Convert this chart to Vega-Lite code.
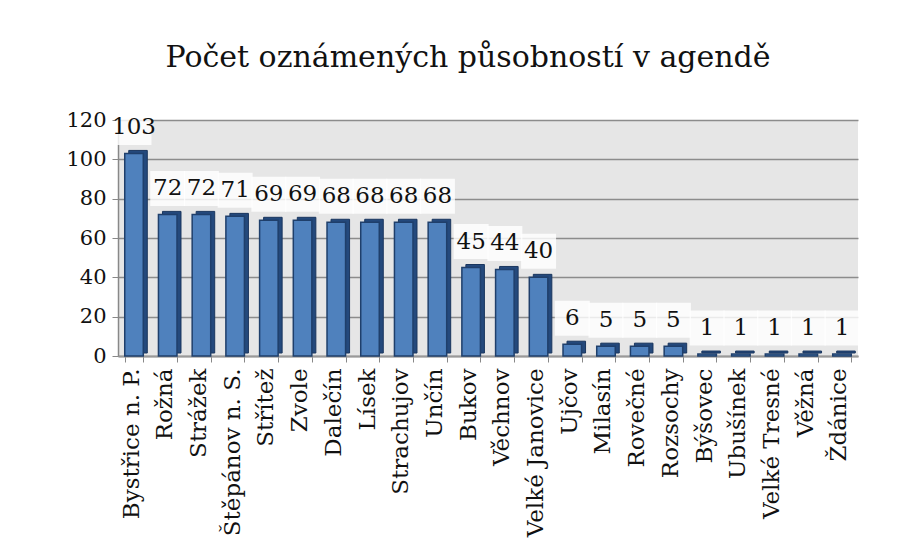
{
  "$schema": "https://vega.github.io/schema/vega-lite/v6.json",
  "autosize": {"type": "none"},
  "width": 740,
  "height": 236,
  "padding": {"left": 118, "top": 120, "right": 46, "bottom": 182},
  "background": "white",
  "title": {
    "text": "Počet oznámených působností v agendě",
    "font": "DejaVu Serif",
    "fontSize": 30,
    "fontWeight": "normal",
    "color": "#111111",
    "anchor": "middle",
    "offset": 36,
    "dx": -20
  },
  "config": {
    "view": {"fill": "#e6e6e6", "stroke": null}
  },
  "data": {
    "values": [
      {"obec": "Bystřice n. P.", "pocet": 103},
      {"obec": "Rožná", "pocet": 72},
      {"obec": "Strážek", "pocet": 72},
      {"obec": "Štěpánov n. S.", "pocet": 71},
      {"obec": "Střítež", "pocet": 69},
      {"obec": "Zvole", "pocet": 69},
      {"obec": "Dalečín", "pocet": 68},
      {"obec": "Lísek", "pocet": 68},
      {"obec": "Strachujov", "pocet": 68},
      {"obec": "Unčín", "pocet": 68},
      {"obec": "Bukov", "pocet": 45},
      {"obec": "Věchnov", "pocet": 44},
      {"obec": "Velké Janovice", "pocet": 40},
      {"obec": "Ujčov", "pocet": 6},
      {"obec": "Milasín", "pocet": 5},
      {"obec": "Rovečné", "pocet": 5},
      {"obec": "Rozsochy", "pocet": 5},
      {"obec": "Býšovec", "pocet": 1},
      {"obec": "Ubušínek", "pocet": 1},
      {"obec": "Velké Tresné", "pocet": 1},
      {"obec": "Věžná", "pocet": 1},
      {"obec": "Ždánice", "pocet": 1}
    ]
  },
  "encoding": {
    "x": {
      "field": "obec",
      "type": "nominal",
      "sort": null,
      "scale": {"paddingInner": 0.45, "paddingOuter": 0.2},
      "axis": {
        "title": null,
        "labelAngle": -90,
        "labelAlign": "right",
        "labelBaseline": "middle",
        "labelFont": "DejaVu Serif",
        "labelFontSize": 23,
        "labelColor": "#111111",
        "labelPadding": 6,
        "labelOffset": -3,
        "labelLimit": 300,
        "tickBand": "extent",
        "tickColor": "#888888",
        "tickSize": 6,
        "domainColor": "#999999",
        "domainWidth": 2
      }
    },
    "y": {
      "field": "pocet",
      "type": "quantitative",
      "scale": {"domain": [0, 120], "nice": false},
      "axis": {
        "title": null,
        "values": [0, 20, 40, 60, 80, 100, 120],
        "labelFont": "DejaVu Serif",
        "labelFontSize": 21,
        "labelColor": "#111111",
        "labelPadding": 6,
        "tickColor": "#888888",
        "tickSize": 6,
        "domainColor": "#888888",
        "domainWidth": 1.5,
        "gridColor": "#8c8c8c",
        "gridWidth": 1.5
      }
    }
  },
  "layer": [
    {
      "mark": {"type": "bar", "fill": "#24497c", "stroke": "#1a365e", "strokeWidth": 1, "xOffset": 4, "yOffset": -3}
    },
    {
      "mark": {"type": "bar", "fill": "#4f81bd", "stroke": "#1f3f6b", "strokeWidth": 1.5}
    },
    {
      "mark": {"type": "point", "shape": "square", "filled": true, "fill": "white", "opacity": 0.82, "size": 1225, "yOffset": -26, "clip": false}
    },
    {
      "mark": {"type": "text", "font": "DejaVu Serif", "fontSize": 23, "color": "#111111", "baseline": "middle", "dy": -26},
      "encoding": {"text": {"field": "pocet", "type": "quantitative"}}
    }
  ]
}
